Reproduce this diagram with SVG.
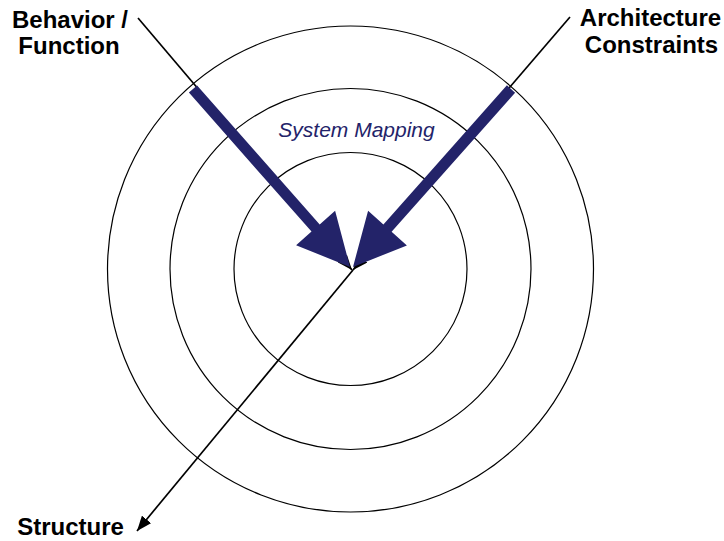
<svg xmlns="http://www.w3.org/2000/svg" width="724" height="541" viewBox="0 0 724 541">
<style>
.ring{fill:none;stroke:#000;stroke-width:1.2}
.ln{fill:none;stroke:#000;stroke-width:1.7}
.navy{fill:#232369;stroke:none}
.lbl{font-family:"Liberation Sans",Arial,sans-serif;font-weight:bold;font-size:24px;fill:#000;text-anchor:middle}
.sm{font-family:"Liberation Sans",Arial,sans-serif;font-style:italic;font-size:21px;fill:#232369;text-anchor:middle}
</style>
<defs>
<marker id="ah" markerUnits="userSpaceOnUse" markerWidth="16" markerHeight="12" refX="15" refY="6" orient="auto">
<path d="M0,0 L15,6 L0,12 z" fill="#000"/>
</marker>
</defs>
<rect width="724" height="541" fill="#fff"/>
<g id="rings">
<circle class="ring" cx="350.5" cy="269" r="243"/>
<circle class="ring" cx="350.5" cy="269" r="180.5"/>
<circle class="ring" cx="350.5" cy="269" r="116.5"/>
</g>
<g id="connectors">
<line class="ln" x1="138" y1="18" x2="352" y2="270" marker-end="url(#ah)"/>
<line class="ln" x1="570" y1="17" x2="353" y2="270" marker-end="url(#ah)"/>
<line class="ln" x1="353" y1="270" x2="137" y2="531" marker-end="url(#ah)"/>
<polygon class="navy" points="188.9,92.6 311.5,231.6 296.1,245.2 350,267 335.1,210.8 319.7,224.4 197.1,85.4"/>
<polygon class="navy" points="506.9,85.3 383.4,224.4 368.1,210.8 353,267 406.9,245.4 391.6,231.8 515.1,92.7"/>
</g>
<g id="behavior">
<text class="lbl" x="70" y="28">Behavior /</text>
<text class="lbl" x="69" y="54">Function</text>
</g>
<g id="architecture">
<text class="lbl" x="650.5" y="26">Architecture</text>
<text class="lbl" x="651.5" y="53">Constraints</text>
</g>
<g id="structure">
<text class="lbl" x="70.5" y="535">Structure</text>
</g>
<g id="system-mapping">
<text class="sm" x="356.5" y="137">System Mapping</text>
</g>
</svg>
